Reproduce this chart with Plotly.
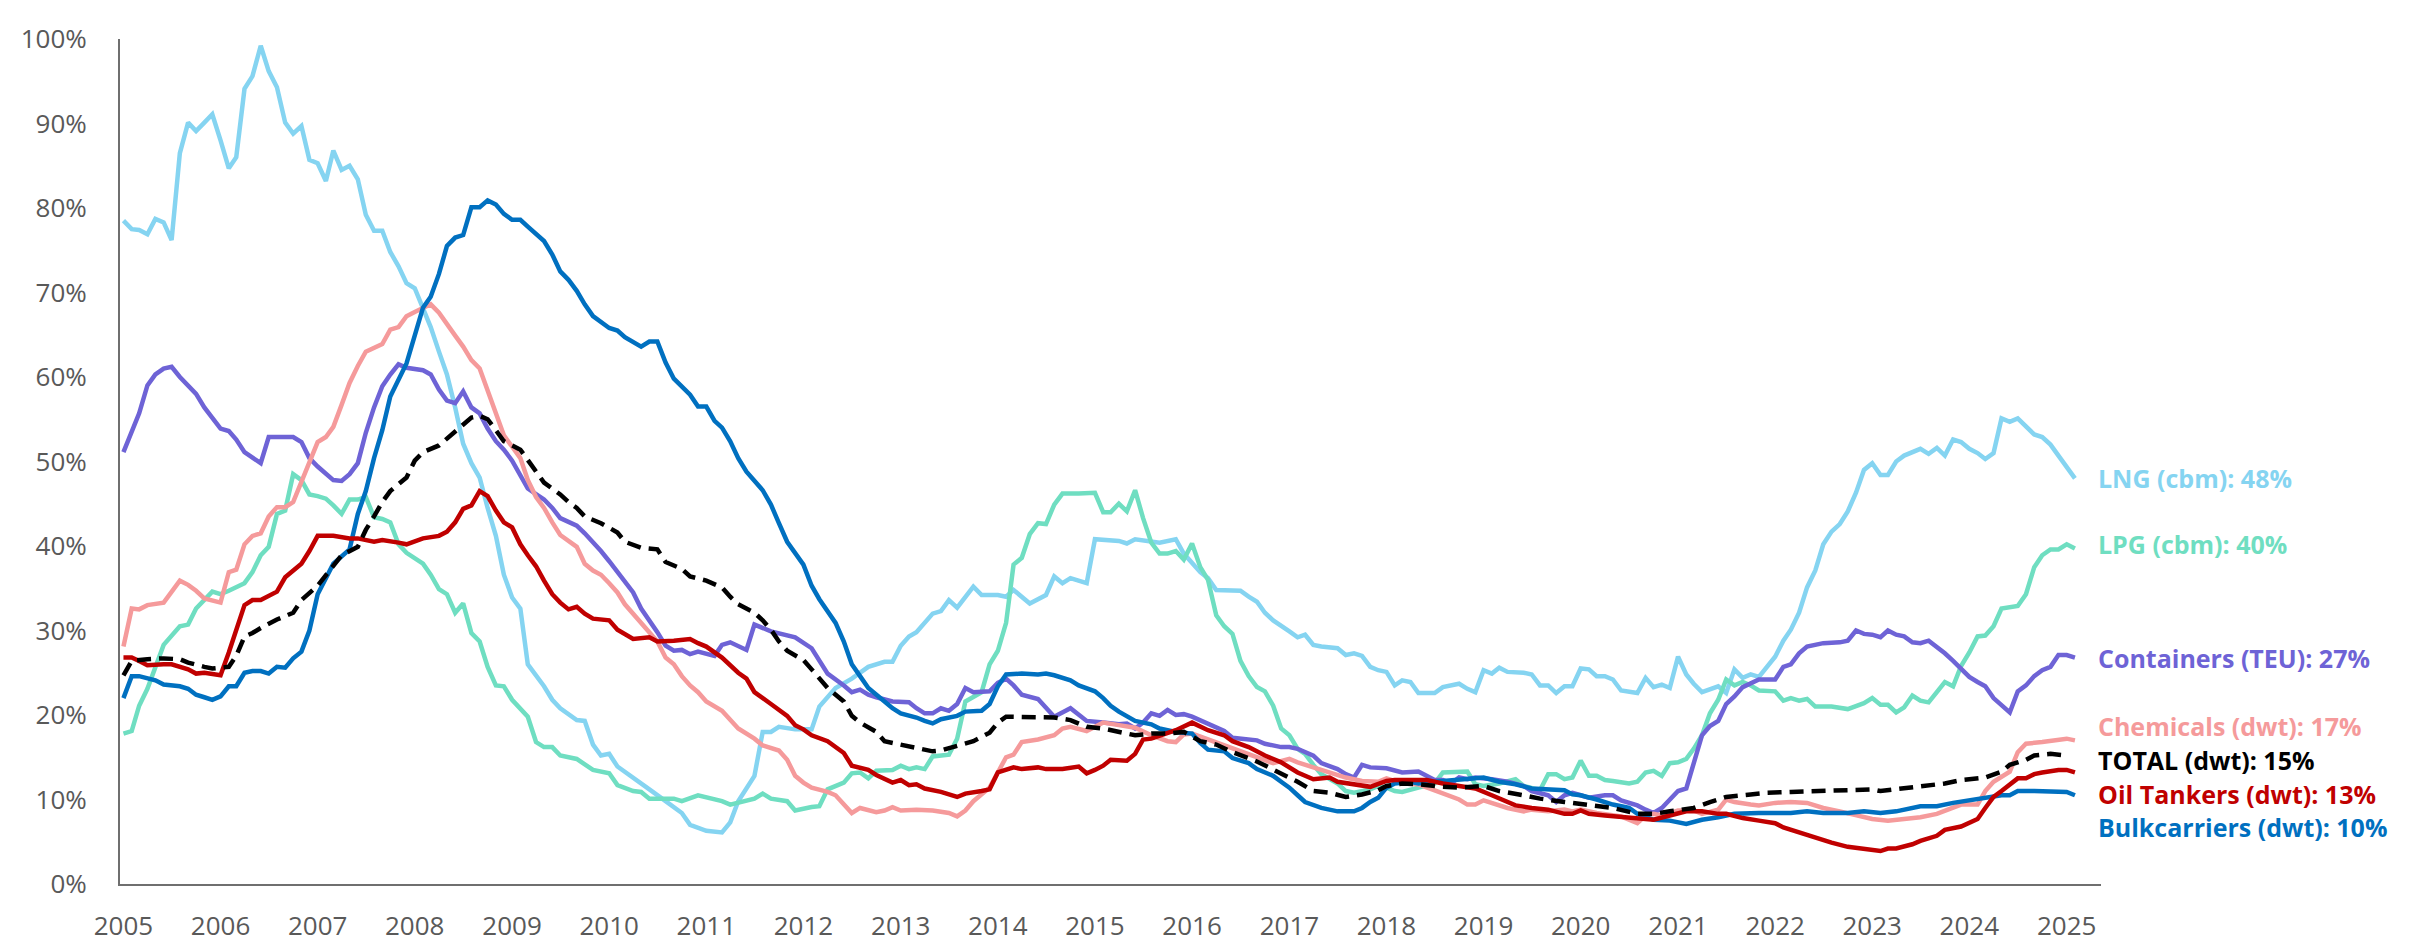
import pandas as pd
import plotly.graph_objects as go

# ---- Data: (months since Jan 2005, orderbook as % of fleet) ----
LNG = [(0,78.5),(1,77.5),(2,77.4),(3,76.9),(4,78.7),(5,78.3),(6,76.2),(7,86.5),(8,90.1),(9,89.1),(10,90.1),(11,91.1),
       (12,88.0),(13,84.7),(14,86.0),(15,94.1),(16,95.6),(17,99.2),(18,96.2),(19,94.3),(20,90.1),(21,88.8),(22,89.7),(23,85.7),
       (24,85.3),(25,83.2),(26,86.8),(27,84.5),(28,85.0),(29,83.4),(30,79.2),(31,77.3),(32,77.3),(33,74.8),(34,73.1),(35,71.1),
       (36,70.5),(37,68.2),(38,65.9),(39,63.0),(40,60.3),(41,56.4),(42,52.1),(43,49.8),(44,48.1),(45,44.5),(46,41.2),(47,36.6),
       (48,33.9),(49,32.6),(50,26.0),(52,23.4),(53,21.8),(54,20.8),(56,19.4),(57,19.3),(58,16.5),(59,15.2),(60,15.4),(61,13.9),
       (63,12.5),(65,11.2),(67,9.8),(69,8.4),(70,7.0),(72,6.3),(74,6.1),(75,7.3),(76,9.8),(78,12.8),(79,18.0),(80,18.0),
       (81,18.6),(83,18.3),(85,18.3),(86,21.0),(88,23.2),(89,23.8),(90,24.3),(92,25.7),(94,26.3),(95,26.3),(96,28.2),(97,29.3),
       (98,29.8),(100,32.0),(101,32.3),(102,33.6),(103,32.7),(105,35.2),(106,34.2),(108,34.2),(109,34.0),(110,34.8),(112,33.2),
       (114,34.2),(115,36.4),(116,35.6),(117,36.2),(119,35.6),(120,40.8),(123,40.6),(124,40.3),(125,40.8),(127,40.6),(128,40.4),
       (130,40.8),(131,39.1),(133,36.9),(134,36.2),(135,34.8),(138,34.7),(139,34.0),(140,33.4),(141,32.1),(142,31.2),(144,29.9),
       (145,29.2),(146,29.5),(147,28.3),(148,28.1),(150,27.9),(151,27.1),(152,27.3),(153,27.0),(154,25.7),(155,25.3),(156,25.1),
       (157,23.5),(158,24.1),(159,23.9),(160,22.6),(162,22.6),(163,23.3),(165,23.7),(166,23.1),(167,22.7),(168,25.3),(169,24.9),
       (170,25.6),(171,25.1),(173,25.0),(174,24.8),(175,23.5),(176,23.5),(177,22.6),(178,23.4),(179,23.4),(180,25.5),(181,25.4),
       (182,24.6),(183,24.6),(184,24.2),(185,22.9),(187,22.6),(188,24.4),(189,23.3),(190,23.6),(191,23.2),(192,26.9),(193,24.8),
       (194,23.7),(195,22.7),(196,23.1),(197,23.4),(198,22.6),(199,25.4),(200,24.4),(201,24.8),(202,24.5),(203,25.7),(204,26.9),
       (205,28.8),(206,30.1),(207,32.1),(208,35.1),(209,37.1),(210,40.2),(211,41.7),(212,42.6),(213,44.1),(214,46.3),(215,49.0),
       (216,49.8),(217,48.4),(218,48.4),(219,50.0),(220,50.7),(222,51.5),(223,50.9),(224,51.6),(225,50.7),(226,52.6),(227,52.3),
       (228,51.5),(229,51.0),(230,50.3),(231,51.0),(232,55.1),(233,54.7),(234,55.1),(235,54.1),(236,53.2),(237,52.9),(238,52.0),
       (239,50.7),(241,48.0)]

LPG = [(0,17.8),(1,18.1),(2,21.1),(3,23.1),(5,28.3),(6,29.3),(7,30.5),(8,30.7),(9,32.6),(11,34.6),(12,34.3),(13,34.7),
       (15,35.6),(16,36.9),(17,38.9),(18,39.9),(19,43.8),(20,44.2),(21,48.5),(22,47.8),(23,46.1),(24,45.9),(25,45.6),(26,44.8),
       (27,43.8),(28,45.5),(29,45.5),(30,45.8),(31,43.4),(32,43.2),(33,42.8),(34,40.2),(35,39.2),(37,37.9),(38,36.6),(39,34.9),
       (40,34.3),(41,32.1),(42,33.2),(43,29.7),(44,28.7),(45,25.7),(46,23.5),(47,23.4),(48,21.8),(50,19.8),(51,16.8),(52,16.2),
       (53,16.2),(54,15.2),(56,14.8),(58,13.5),(60,13.1),(61,11.7),(63,11.0),(64,10.9),(65,10.1),(68,10.1),(69,9.8),(71,10.5),
       (74,9.8),(75,9.4),(77,9.8),(78,10.1),(79,10.7),(80,10.1),(82,9.8),(83,8.7),(85,9.1),(86,9.2),(87,11.2),(89,12.0),
       (90,13.1),(91,13.2),(92,12.5),(93,13.4),(95,13.5),(96,14.0),(97,13.6),(98,13.8),(99,13.6),(100,15.1),(102,15.3),(103,17.2),
       (104,21.6),(106,22.7),(107,26.0),(108,27.6),(109,30.9),(110,37.8),(111,38.6),(112,41.4),(113,42.7),(114,42.6),(115,44.9),
       (116,46.2),(118,46.2),(120,46.3),(121,44.0),(122,44.0),(123,45.0),(124,44.1),(125,46.6),(126,43.3),(127,40.4),(128,39.1),
       (129,39.1),(130,39.4),(131,38.4),(132,40.3),(133,37.5),(134,36.0),(135,31.8),(136,30.5),(137,29.6),(138,26.4),(139,24.6),
       (140,23.3),(141,22.8),(142,21.1),(143,18.4),(144,17.6),(145,16.0),(146,15.4),(147,14.1),(148,13.0),(150,11.9),(151,11.0),
       (152,10.8),(154,11.2),(155,11.6),(156,11.4),(157,11.0),(158,10.9),(160,11.4),(162,11.9),(163,13.2),(166,13.3),(167,11.8),
       (168,11.6),(170,11.9),(172,12.4),(173,11.6),(175,11.1),(176,13.0),(177,13.0),(178,12.4),(179,12.6),(180,14.6),(181,12.8),
       (182,12.8),(183,12.3),(184,12.2),(186,11.9),(187,12.1),(188,13.2),(189,13.4),(190,12.8),(191,14.3),(192,14.4),(193,14.8),
       (194,16.0),(195,17.6),(196,20.2),(197,21.8),(198,24.2),(199,23.5),(200,23.9),(201,23.5),(202,22.9),(204,22.8),(205,21.7),
       (206,22.0),(207,21.7),(208,21.9),(209,21.0),(211,21.0),(213,20.7),(215,21.4),(216,22.0),(217,21.2),(218,21.2),(219,20.3),
       (220,20.9),(221,22.3),(222,21.7),(223,21.5),(224,22.8),(225,23.9),(226,23.4),(227,25.8),(228,27.4),(229,29.3),(230,29.4),
       (231,30.5),(232,32.6),(234,32.9),(235,34.3),(236,37.5),(237,38.9),(238,39.6),(239,39.6),(240,40.2),(241,39.7)]

CONTAINERS = [(0,51.1),(1,53.4),(2,55.7),(3,59.0),(4,60.3),(5,61.0),(6,61.2),(7,60.0),(8,59.0),(9,58.0),(10,56.4),(11,55.2),
       (12,53.9),(13,53.6),(14,52.6),(15,51.1),(16,50.4),(17,49.8),(18,52.9),(19,52.9),(21,52.9),(22,52.3),(23,50.4),(24,49.4),
       (25,48.5),(26,47.8),(27,47.7),(28,48.5),(29,49.8),(30,53.4),(31,56.4),(32,58.9),(33,60.3),(34,61.5),(35,61.1),(37,60.8),
       (38,60.3),(39,58.5),(40,57.2),(41,56.9),(42,58.3),(43,56.4),(44,55.7),(45,53.9),(46,52.4),(47,51.4),(48,50.1),(49,48.3),
       (50,46.8),(52,45.5),(53,44.5),(54,43.3),(56,42.4),(57,41.5),(58,40.5),(59,39.4),(60,38.2),(62,35.9),(63,34.5),(64,32.6),
       (65,31.2),(66,29.8),(67,28.2),(68,27.6),(69,27.7),(70,27.2),(71,27.5),(73,27.0),(74,28.3),(75,28.6),(77,27.7),(78,30.7),
       (80,29.9),(81,29.7),(83,29.2),(85,27.9),(86,26.5),(87,24.9),(89,23.5),(90,22.7),(91,23.0),(92,22.4),(93,22.1),(95,21.6),
       (97,21.5),(98,20.8),(99,20.2),(100,20.2),(101,20.8),(102,20.5),(103,21.3),(104,23.2),(105,22.7),(107,22.8),(108,23.8),
       (109,24.3),(110,23.5),(111,22.4),(113,21.9),(114,20.8),(115,19.8),(117,20.8),(118,20.0),(119,19.3),(121,19.1),(123,18.9),
       (124,19.0),(125,18.4),(126,19.1),(127,20.2),(128,19.9),(129,20.6),(130,20.0),(131,20.1),(132,19.8),(134,18.9),(136,18.1),
       (137,17.3),(139,17.1),(140,17.0),(141,16.6),(143,16.2),(144,16.2),(145,16.0),(147,15.2),(148,14.3),(150,13.6),(151,13.0),
       (152,12.6),(153,14.1),(154,13.8),(156,13.7),(158,13.2),(160,13.3),(162,12.3),(163,12.3),(164,11.9),(165,12.6),(166,12.4),
       (167,12.6),(169,12.4),(171,12.1),(173,11.6),(174,11.0),(176,10.5),(177,9.7),(178,10.5),(179,10.8),(180,10.5),(181,10.2),
       (183,10.5),(184,10.5),(185,9.9),(187,9.3),(188,8.8),(189,8.4),(190,9.0),(191,10.0),(192,11.0),(193,11.3),(194,14.1),
       (195,17.6),(196,18.7),(197,19.3),(198,21.3),(199,22.2),(200,23.3),(202,24.2),(203,24.2),(204,24.2),(205,25.7),(206,26.0),
       (207,27.3),(208,28.1),(210,28.5),(212,28.6),(213,28.8),(214,30.0),(215,29.6),(216,29.5),(217,29.2),(218,30.0),(219,29.5),
       (220,29.3),(221,28.6),(222,28.5),(223,28.8),(224,28.1),(225,27.3),(226,26.4),(227,25.5),(228,24.5),(229,23.9),(230,23.4),
       (231,22.0),(232,21.1),(233,20.3),(234,22.8),(235,23.5),(236,24.6),(237,25.3),(238,25.7),(239,27.1),(240,27.1),(241,26.8)]

CHEMICALS = [(0,28.1),(1,32.6),(2,32.5),(3,33.0),(5,33.3),(6,34.6),(7,35.9),(8,35.4),(9,34.7),(10,33.8),(12,33.3),(13,36.9),
       (14,37.2),(15,40.2),(16,41.2),(17,41.5),(18,43.5),(19,44.6),(20,44.6),(21,45.2),(22,47.7),(23,49.8),(24,52.3),(25,52.9),
       (26,54.1),(27,56.7),(28,59.3),(29,61.3),(30,63.0),(32,63.9),(33,65.6),(34,65.9),(35,67.2),(36,67.7),(37,68.2),(38,68.6),
       (39,67.6),(40,66.2),(41,64.9),(42,63.6),(43,62.0),(44,61.0),(45,58.3),(46,55.7),(47,53.1),(49,50.4),(50,47.8),(51,45.8),
       (52,44.5),(53,42.8),(54,41.3),(56,39.9),(57,37.9),(58,37.1),(59,36.6),(60,35.6),(61,34.5),(62,33.1),(64,30.9),(65,29.6),
       (66,28.7),(67,26.8),(68,26.0),(69,24.6),(70,23.5),(71,22.7),(72,21.6),(74,20.5),(75,19.4),(76,18.4),(78,17.2),(79,16.4),
       (81,15.8),(82,14.7),(83,12.8),(84,12.0),(85,11.4),(87,10.9),(88,10.5),(89,9.5),(90,8.4),(91,9.0),(93,8.5),(94,8.7),
       (95,9.1),(96,8.7),(98,8.8),(100,8.7),(102,8.4),(103,8.0),(104,8.7),(105,9.8),(107,11.4),(108,13.2),(109,15.0),(110,15.3),
       (111,16.8),(113,17.1),(115,17.6),(116,18.4),(117,18.6),(119,18.1),(121,19.1),(123,18.8),(125,18.5),(127,17.6),(129,16.9),
       (130,16.8),(131,17.7),(132,17.8),(134,17.1),(136,16.5),(138,15.8),(140,15.0),(142,14.3),(144,14.8),(145,14.4),(147,13.8),
       (149,13.2),(151,12.6),(153,12.2),(155,12.1),(156,12.5),(158,11.9),(160,11.8),(162,11.1),(163,10.8),(165,10.0),(166,9.4),
       (167,9.4),(168,9.9),(169,9.6),(171,9.0),(173,8.6),(174,8.8),(176,8.6),(178,8.8),(179,8.6),(180,8.8),(182,8.4),(184,8.1),
       (185,8.0),(187,7.2),(188,8.1),(189,8.3),(190,8.1),(192,8.7),(194,8.7),(195,8.3),(197,8.8),(198,10.0),(199,9.7),(201,9.4),
       (202,9.3),(204,9.6),(206,9.7),(208,9.6),(210,9.0),(212,8.6),(214,8.1),(216,7.7),(218,7.5),(220,7.7),(222,7.9),(224,8.3),
       (226,9.0),(227,9.4),(229,9.4),(230,11.0),(231,12.1),(233,13.3),(234,15.6),(235,16.6),(237,16.8),(239,17.0),(240,17.2),
       (241,17.0)]

TOTAL = [(0,24.7),(1,26.4),(3,26.6),(5,26.7),(7,26.6),(8,26.2),(10,25.7),(11,25.5),(13,25.7),(14,27.0),(15,29.3),(16,29.7),
       (17,30.3),(19,31.3),(21,32.1),(22,33.6),(24,35.3),(25,36.6),(26,37.6),(27,38.9),(29,39.9),(30,41.9),(31,43.5),(32,45.2),
       (33,46.5),(35,48.1),(36,50.1),(37,51.1),(39,51.9),(40,52.7),(41,53.7),(42,54.4),(43,55.2),(44,55.4),(45,55.0),(46,53.7),
       (47,52.4),(49,51.4),(50,50.1),(51,48.8),(52,47.5),(54,46.1),(55,45.2),(56,44.5),(57,43.5),(59,42.7),(60,42.2),(61,41.6),
       (62,40.5),(64,39.8),(66,39.6),(67,38.1),(69,37.3),(70,36.4),(72,35.9),(74,35.1),(75,34.0),(76,33.1),(78,32.1),(79,31.2),
       (80,30.1),(81,28.7),(82,27.6),(84,26.5),(85,25.4),(86,24.3),(87,23.2),(89,21.6),(90,19.9),(91,19.1),(93,18.0),(94,16.9),
       (96,16.5),(98,16.2),(100,15.7),(101,15.8),(103,16.4),(105,16.9),(107,17.9),(108,19.1),(109,19.8),(111,19.8),(113,19.7),
       (115,19.7),(117,19.4),(119,18.6),(121,18.4),(123,18.0),(125,17.6),(127,17.8),(129,17.8),(131,18.0),(133,16.9),(135,16.5),
       (137,15.6),(140,14.5),(142,13.6),(145,12.1),(147,11.0),(149,10.8),(151,10.3),(153,10.6),(155,11.1),(156,11.6),(158,11.9),
       (160,11.8),(163,11.5),(165,11.4),(168,11.6),(170,11.0),(173,10.5),(175,10.1),(178,9.7),(181,9.3),(184,9.0),(187,8.3),
       (189,8.3),(191,8.6),(194,9.0),(196,9.7),(198,10.3),(201,10.6),(203,10.8),(206,10.9),(209,11.0),(211,11.0),(214,11.1),
       (216,11.2),(217,11.0),(219,11.2),(222,11.6),(225,11.9),(227,12.3),(230,12.6),(232,13.3),(233,14.1),(235,14.7),(236,15.2),
       (238,15.4),(240,15.2)]

OIL_TANKERS = [(0,26.8),(1,26.8),(2,26.4),(3,25.9),(5,26.0),(6,26.0),(8,25.4),(9,24.9),(10,25.0),(12,24.7),(13,27.4),(15,33.0),
       (16,33.6),(17,33.6),(19,34.6),(20,36.3),(22,37.9),(23,39.4),(24,41.2),(26,41.2),(28,40.9),(29,40.9),(31,40.5),(32,40.7),
       (34,40.4),(35,40.2),(37,40.9),(39,41.2),(40,41.7),(41,42.8),(42,44.4),(43,44.8),(44,46.5),(45,45.9),(46,44.2),(47,42.8),
       (48,42.2),(49,40.2),(50,38.9),(51,37.6),(52,35.9),(53,34.3),(54,33.3),(55,32.5),(56,32.8),(57,32.0),(58,31.4),(60,31.2),
       (61,30.1),(63,29.0),(65,29.2),(66,28.7),(68,28.8),(70,29.0),(71,28.5),(72,28.1),(74,26.8),(76,25.0),(77,24.3),(78,22.7),
       (80,21.3),(82,19.9),(83,18.8),(84,18.3),(85,17.6),(87,16.9),(89,15.5),(90,14.0),(92,13.5),(93,12.9),(95,12.0),(96,12.3),
       (97,11.7),(98,11.8),(99,11.3),(101,10.9),(103,10.3),(104,10.7),(106,11.0),(107,11.2),(108,13.2),(110,13.8),(111,13.6),
       (113,13.8),(114,13.6),(116,13.6),(118,13.9),(119,13.1),(120,13.5),(121,14.0),(122,14.7),(124,14.6),(125,15.4),(126,17.1),
       (127,17.2),(129,17.8),(130,18.2),(132,19.1),(134,18.2),(136,17.6),(137,16.9),(139,16.2),(141,15.2),(143,14.4),(145,13.2),
       (147,12.4),(149,12.6),(150,12.1),(152,11.8),(154,11.5),(156,12.2),(157,12.3),(159,12.3),(161,12.3),(163,11.9),(165,11.6),
       (167,11.3),(169,10.5),(171,9.7),(172,9.3),(174,9.0),(176,8.8),(178,8.3),(179,8.3),(180,8.7),(181,8.3),(183,8.1),(185,7.9),
       (187,7.8),(189,7.6),(191,8.1),(193,8.6),(195,8.6),(197,8.3),(198,8.3),(200,7.8),(202,7.5),(204,7.2),(205,6.7),(207,6.1),
       (209,5.5),(211,4.9),(213,4.4),(215,4.2),(217,3.9),(218,4.2),(219,4.2),(221,4.7),(222,5.1),(224,5.7),(225,6.4),(227,6.8),
       (229,7.7),(230,9.0),(231,10.3),(232,11.0),(234,12.5),(235,12.5),(236,13.0),(237,13.2),(239,13.5),(240,13.5),(241,13.2)]

BULKCARRIERS = [(0,22.0),(1,24.6),(2,24.6),(4,24.1),(5,23.6),(7,23.4),(8,23.1),(9,22.4),(10,22.1),(11,21.8),(12,22.2),(13,23.4),
       (14,23.4),(15,25.0),(16,25.2),(17,25.2),(18,24.9),(19,25.7),(20,25.6),(21,26.7),(22,27.5),(23,30.0),(24,34.3),(25,36.3),
       (26,37.9),(28,39.6),(29,43.8),(30,46.5),(31,50.4),(32,53.7),(33,57.7),(35,61.6),(36,64.9),(37,68.2),(38,69.5),(39,72.2),
       (40,75.5),(41,76.5),(42,76.8),(43,80.1),(44,80.1),(45,80.9),(46,80.4),(47,79.3),(48,78.6),(49,78.6),(50,77.8),(52,76.1),
       (53,74.5),(54,72.5),(55,71.5),(56,70.2),(57,68.6),(58,67.2),(60,65.8),(61,65.5),(62,64.7),(64,63.6),(65,64.2),(66,64.2),
       (67,61.7),(68,59.8),(70,57.9),(71,56.5),(72,56.5),(73,54.8),(74,54.0),(75,52.4),(76,50.4),(77,48.8),(79,46.6),(80,44.9),
       (81,42.7),(82,40.5),(84,37.8),(85,35.3),(86,33.7),(88,30.9),(89,28.7),(90,26.0),(91,24.6),(92,23.2),(94,21.6),(95,20.8),
       (96,20.2),(98,19.7),(99,19.3),(100,19.0),(101,19.5),(103,19.9),(104,20.4),(106,20.5),(107,21.3),(108,23.4),(109,24.8),
       (111,24.9),(113,24.8),(114,24.9),(115,24.7),(117,24.1),(118,23.5),(119,23.1),(120,22.8),(121,22.0),(122,21.1),(123,20.4),
       (124,19.9),(125,19.3),(127,18.9),(128,18.4),(129,18.2),(130,18.0),(132,17.8),(133,16.7),(134,15.9),(136,15.7),(137,14.9),
       (139,14.3),(140,13.6),(142,12.8),(143,12.1),(144,11.4),(145,10.5),(146,9.7),(148,9.0),(149,8.8),(150,8.6),(152,8.6),
       (153,9.0),(154,9.7),(155,10.2),(156,11.4),(157,11.9),(159,12.1),(160,11.9),(162,12.1),(164,12.3),(166,12.5),(168,12.6),
       (170,12.1),(172,11.8),(174,11.3),(176,11.2),(178,11.1),(179,10.6),(180,10.5),(182,10.0),(184,9.4),(186,9.0),(187,8.3),
       (189,7.6),(191,7.5),(193,7.1),(195,7.6),(197,7.9),(199,8.3),(202,8.4),(204,8.4),(206,8.4),(208,8.6),(210,8.4),(213,8.4),
       (215,8.6),(217,8.4),(219,8.6),(222,9.2),(224,9.2),(226,9.6),(228,9.9),(230,10.2),(232,10.5),(233,10.5),(234,11.0),
       (236,11.0),(238,11.0),(240,10.9),(241,10.5)]

SERIES_NAMES = ["LNG (cbm)", "LPG (cbm)", "Containers (TEU)", "Chemicals (dwt)",
                "TOTAL (dwt)", "Oil Tankers (dwt)", "Bulkcarriers (dwt)"]
LATEST = [48, 40, 27, 17, 15, 13, 10]
YEARS = list(range(2005, 2026))

# ---- Styling ----
COLORS = ["#85D4F1", "#6FDEC1", "#6E63D6", "#F59A9B", "#000000", "#C00000", "#0070C0"]
DATASETS = [LNG, LPG, CONTAINERS, CHEMICALS, TOTAL, OIL_TANKERS, BULKCARRIERS]
LABEL_Y = [48.0, 40.2, 26.8, 18.7, 14.7, 10.7, 6.7]   # label anchor positions (axis units)
FONT = "Century Gothic, Open Sans, sans-serif"

start = pd.Timestamp("2005-01-01")


def to_dates(pairs):
    return [(start + pd.DateOffset(months=m)).strftime("%Y-%m-%d") for m, _ in pairs]


fig = go.Figure()
draw_order = [0, 1, 2, 3, 6, 5, 4]
for i in draw_order:
    data = DATASETS[i]
    fig.add_trace(go.Scatter(
        x=to_dates(data), y=[v for _, v in data], mode="lines", name=SERIES_NAMES[i],
        line=dict(color=COLORS[i], width=4.5, dash="14px,8px" if i == 4 else "solid"),
        hoverinfo="skip",
    ))

for i, name in enumerate(SERIES_NAMES):
    fig.add_annotation(
        xref="paper", yref="y", x=0.9975, y=LABEL_Y[i], xanchor="left", yanchor="middle",
        text=f"<b>{name}: {LATEST[i]}%</b>", showarrow=False,
        font=dict(family=FONT, size=25, color=COLORS[i]),
    )

fig.update_layout(
    width=2417, height=947,
    margin=dict(l=112, r=324, t=20, b=54),
    paper_bgcolor="white", plot_bgcolor="white",
    showlegend=False,
    font=dict(family=FONT, color="#595959"),
)
fig.update_xaxes(
    type="date", range=["2004-12-19", "2025-05-10"],
    tickvals=[f"{y}-01-01" for y in YEARS], ticktext=[str(y) for y in YEARS],
    showgrid=False, zeroline=False, showline=True, linecolor="#6f6f6f", linewidth=2,
    ticks="", tickfont=dict(family=FONT, size=26, color="#595959"), ticklabelstandoff=18,
)
fig.update_yaxes(
    range=[0, 100], tickvals=list(range(0, 101, 10)), ticktext=[f"{v}%" for v in range(0, 101, 10)],
    showgrid=False, zeroline=False, showline=True, linecolor="#6f6f6f", linewidth=2,
    ticks="", tickfont=dict(family=FONT, size=26, color="#595959"), ticklabelstandoff=26,
)

fig.write_html("out.html")
